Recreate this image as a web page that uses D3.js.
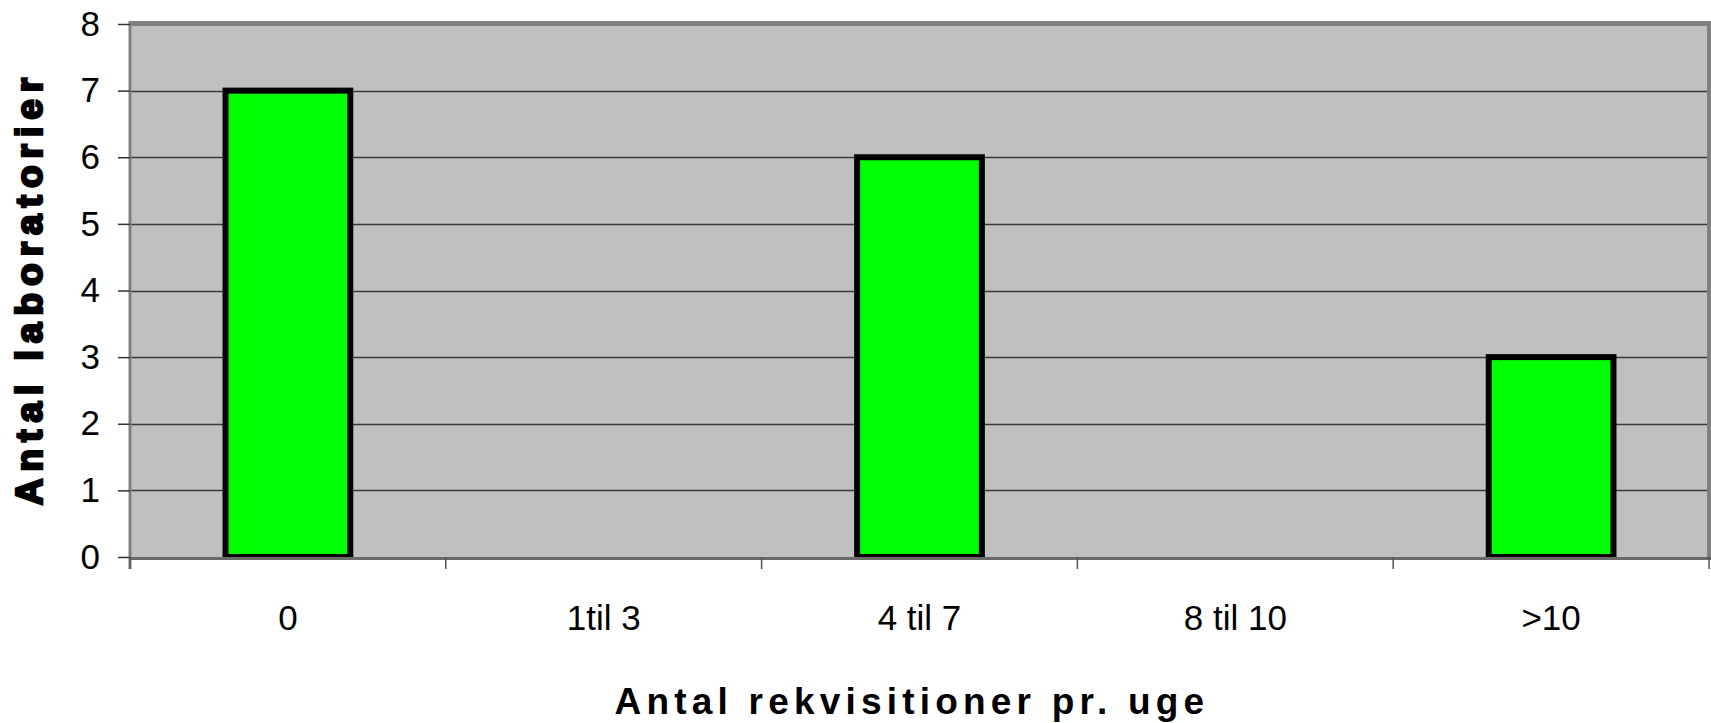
<!DOCTYPE html>
<html>
<head>
<meta charset="UTF-8">
<title>Antal rekvisitioner pr. uge</title>
<script src="https://d3js.org/d3.v7.min.js"></script>
<style>
    body {
        margin: 0;
        background: #fff;
        font-family: "Liberation Sans", Arial, sans-serif;
    }
</style>
</head>
<body>
<script>
    // data
    const categories = ["0", "1til 3", "4 til 7", "8 til 10", ">10"];
    const values = [7, 0, 6, 0, 3];
    const yTicks = [0, 1, 2, 3, 4, 5, 6, 7, 8];
    const xTitle = "Antal rekvisitioner pr. uge";
    const yTitle = "Antal laboratorier";

    const width = 1711, height = 723,
        plotLeft = 130, plotRight = 1709, plotTop = 24, plotBottom = 557;

    const x = d3.scaleBand().domain(categories).range([plotLeft, plotRight]).padding(0);
    const y = d3.scaleLinear().domain([0, 8]).range([plotBottom, plotTop]);

    const svg = d3.select("body").append("svg")
        .attr("width", width).attr("height", height);

    // plot area
    svg.append("rect")
        .attr("x", plotLeft).attr("y", y(8))
        .attr("width", plotRight - plotLeft).attr("height", y(0) - y(8))
        .attr("fill", "#c0c0c0");

    // gridlines
    svg.append("g").selectAll("line")
        .data(yTicks.filter(d => d > 0 && d < 8))
        .join("line")
        .attr("x1", plotLeft).attr("x2", plotRight)
        .attr("y1", d => Math.round(y(d)) + 0.5).attr("y2", d => Math.round(y(d)) + 0.5)
        .attr("stroke", "#3a3a3a").attr("stroke-width", 1.3);

    // frame (top and right shadow, left edge)
    svg.append("line").attr("x1", plotLeft).attr("x2", width)
        .attr("y1", y(8) - 0.5).attr("y2", y(8) - 0.5)
        .attr("stroke", "#808080").attr("stroke-width", 5);
    svg.append("line").attr("x1", plotRight + 0.5).attr("x2", plotRight + 0.5)
        .attr("y1", y(8) - 3).attr("y2", y(0))
        .attr("stroke", "#808080").attr("stroke-width", 5);
    svg.append("line").attr("x1", plotLeft).attr("x2", plotLeft)
        .attr("y1", y(8) - 3).attr("y2", y(0) + 12)
        .attr("stroke", "#808080").attr("stroke-width", 3);

    // bars
    const barW = x.bandwidth() * 0.395;
    svg.append("g").selectAll("rect")
        .data(categories.map((c, i) => ({c: c, v: values[i]})).filter(d => d.v > 0))
        .join("rect")
        .attr("x", d => x(d.c) + x.bandwidth() / 2 - barW / 2)
        .attr("y", d => y(d.v))
        .attr("width", barW)
        .attr("height", d => y(0) - y(d.v))
        .attr("fill", "#00ff00")
        .attr("stroke", "#000")
        .attr("stroke-width", 6);

    // bottom axis line
    svg.append("line").attr("x1", plotLeft).attr("x2", plotRight + 3)
        .attr("y1", y(0) + 1.5).attr("y2", y(0) + 1.5)
        .attr("stroke", "#6a6a6a").attr("stroke-width", 3);

    // y axis
    const yAxis = d3.axisLeft(y).tickValues(yTicks).tickSize(12).tickPadding(18);
    const gy = svg.append("g").attr("transform", `translate(${plotLeft},0)`).call(yAxis);
    gy.select(".domain").remove();
    gy.selectAll(".tick line").attr("stroke", "#333").attr("stroke-width", 1.5);
    gy.selectAll(".tick text")
        .attr("font-family", "'Liberation Sans', Arial, sans-serif")
        .attr("font-size", 35).attr("fill", "#000");

    // x axis ticks at category boundaries
    const bounds = categories.map(c => x(c)).concat([plotRight]);
    svg.append("g").selectAll("line")
        .data(bounds)
        .join("line")
        .attr("x1", d => d).attr("x2", d => d)
        .attr("y1", y(0)).attr("y2", y(0) + 12)
        .attr("stroke", "#555").attr("stroke-width", 1.5);

    svg.append("g").selectAll("text")
        .data(categories)
        .join("text")
        .attr("x", d => x(d) + x.bandwidth() / 2)
        .attr("y", 630)
        .attr("text-anchor", "middle")
        .attr("font-size", 35)
        .attr("fill", "#000")
        .text(d => d);

    // axis titles
    svg.append("text")
        .attr("x", 912).attr("y", 714)
        .attr("text-anchor", "middle")
        .attr("font-size", 37).attr("font-weight", "bold")
        .attr("letter-spacing", "5.2px")
        .text(xTitle);

    // the original renders this one very heavy
    svg.append("text")
        .attr("transform", "translate(42,288) rotate(-90)")
        .attr("text-anchor", "middle")
        .attr("font-size", 37).attr("font-weight", "bold")
        .attr("letter-spacing", "7px")
        .attr("stroke", "#000").attr("stroke-width", 2.5)
        .text(yTitle);
</script>
</body>
</html>
